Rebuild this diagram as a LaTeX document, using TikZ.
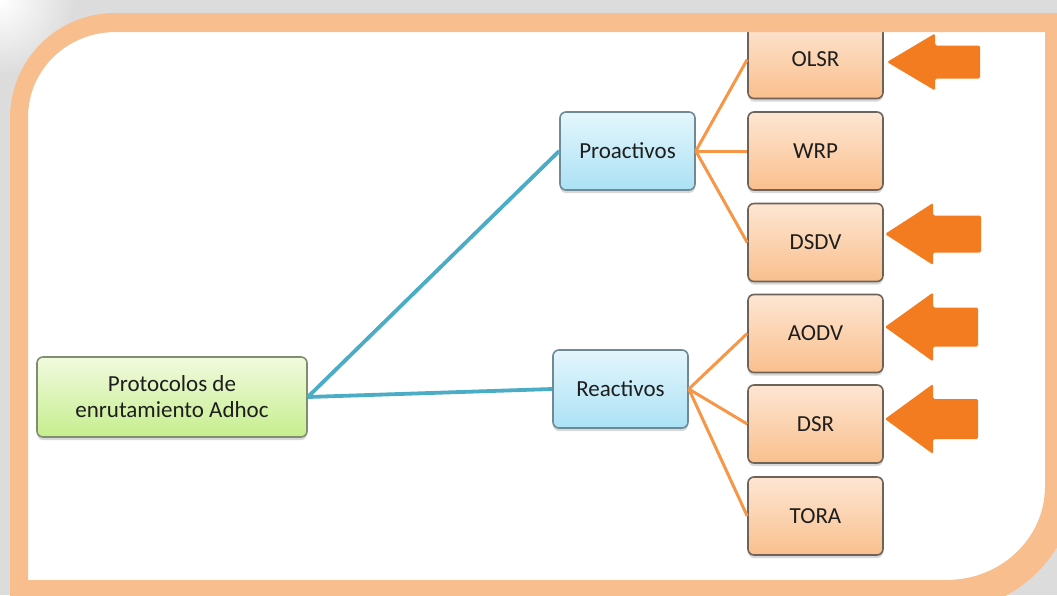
\documentclass[tikz,border=0pt]{standalone}
\usepackage{fontspec}
\setmainfont{Carlito}
\usetikzlibrary{shadows}

\definecolor{bgGray}{HTML}{DCDCDC}
\definecolor{frameOrange}{HTML}{F9BE8E}
\definecolor{linkBlue}{HTML}{4BACC6}
\definecolor{linkOrange}{HTML}{F79646}
\definecolor{arrowOrange}{HTML}{F47C20}
\definecolor{textDark}{HTML}{1E1E1E}
\definecolor{rootTop}{HTML}{F1FADE}
\definecolor{rootBot}{HTML}{C6EE8E}
\definecolor{rootLine}{HTML}{7F8E70}
\definecolor{midTop}{HTML}{E4F6FC}
\definecolor{midBot}{HTML}{ABE1F5}
\definecolor{midLine}{HTML}{6F8A94}
\definecolor{leafTop}{HTML}{FDE6D3}
\definecolor{leafBot}{HTML}{FABF8D}
\definecolor{leafLine}{HTML}{6F6359}

\tikzset{
  box/.style={draw, line width=1.6pt, rounded corners=6pt,
    minimum width=135pt, minimum height=78pt, align=center,
    text=textDark, font=\fontsize{23}{26}\selectfont,
    drop shadow={opacity=0.3, shadow xshift=0pt, shadow yshift=-3pt}},
  rootbox/.style={box, minimum width=270pt, minimum height=80pt,
    top color=rootTop, bottom color=rootBot, draw=rootLine},
  midbox/.style={box, top color=midTop, bottom color=midBot, draw=midLine},
  leafbox/.style={box, top color=leafTop, bottom color=leafBot, draw=leafLine},
  bluelink/.style={draw=linkBlue, line width=3.8pt},
  orangelink/.style={draw=linkOrange, line width=3pt},
  pics/bigarrow/.style n args={3}{code={
    \fill[arrowOrange, rounded corners=1.5pt]
      (0,0) -- (48,-#1) -- (48,-#2) -- (#3,-#2) -- (#3,#2)
      -- (48,#2) -- (48,#1) -- cycle;}}
}

\begin{document}
\begin{tikzpicture}[x=1pt, y=-1pt]
  \useasboundingbox (0,0) rectangle (1057,595);
  \clip (0,0) rectangle (1057,595);

  % backdrop with a soft glow in the upper left corner
  \fill[bgGray] (0,0) rectangle (1057,595);
  \shade[inner color=white, outer color=bgGray] (0,0) circle (75);

  % white panel
  \fill[white] (28,580) -- (28,117) .. controls (28,70) and (67,32) .. (115,32)
    -- (1045,32) -- (1045,487) .. controls (1045,538) and (1001,580) .. (947,580) -- cycle;

  % nodes
  \node[rootbox] (root) at (172,397) {Protocolos de\\enrutamiento Adhoc};
  \node[midbox] (pro) at (627.5,151) {Proactivos};
  \node[midbox] (rea) at (620.5,389) {Reactivos};

  \node[leafbox] (olsr) at (815.5,59.5) {OLSR};
  \node[leafbox] (wrp)  at (815.5,151) {WRP};
  \node[leafbox] (dsdv) at (815.5,242.5) {DSDV};
  \node[leafbox] (aodv) at (815.5,333.5) {AODV};
  \node[leafbox] (dsr)  at (815.5,424) {DSR};
  \node[leafbox] (tora) at (815.5,516) {TORA};

  % connectors
  \draw[bluelink] (pro.west) -- (root.east);
  \draw[bluelink] (rea.west) -- (root.east);

  \foreach \leaf in {olsr, wrp, dsdv}
    \draw[orangelink] (pro.east) -- (\leaf.west);
  \foreach \leaf in {aodv, dsr, tora}
    \draw[orangelink] (rea.east) -- (\leaf.west);

  % highlight arrows
  \pic at (887,62)  {bigarrow={28.5}{16.5}{93}};
  \pic at (885,234) {bigarrow={31}{18.5}{96}};
  \pic at (885,327) {bigarrow={34.5}{19.5}{93}};
  \pic at (885,419) {bigarrow={35}{20}{93}};

  % orange frame
  \fill[frameOrange, even odd rule]
    (10,640) -- (10,118) .. controls (10,60) and (57,13) .. (115,13)
    -- (1075,13) -- (1075,485) .. controls (1075,551) and (1016,610) .. (950,610)
    -- (10,640) -- cycle
    (28,580) -- (28,117) .. controls (28,70) and (67,32) .. (115,32)
    -- (1045,32) -- (1045,487) .. controls (1045,538) and (1001,580) .. (947,580) -- cycle;
\end{tikzpicture}
\end{document}
